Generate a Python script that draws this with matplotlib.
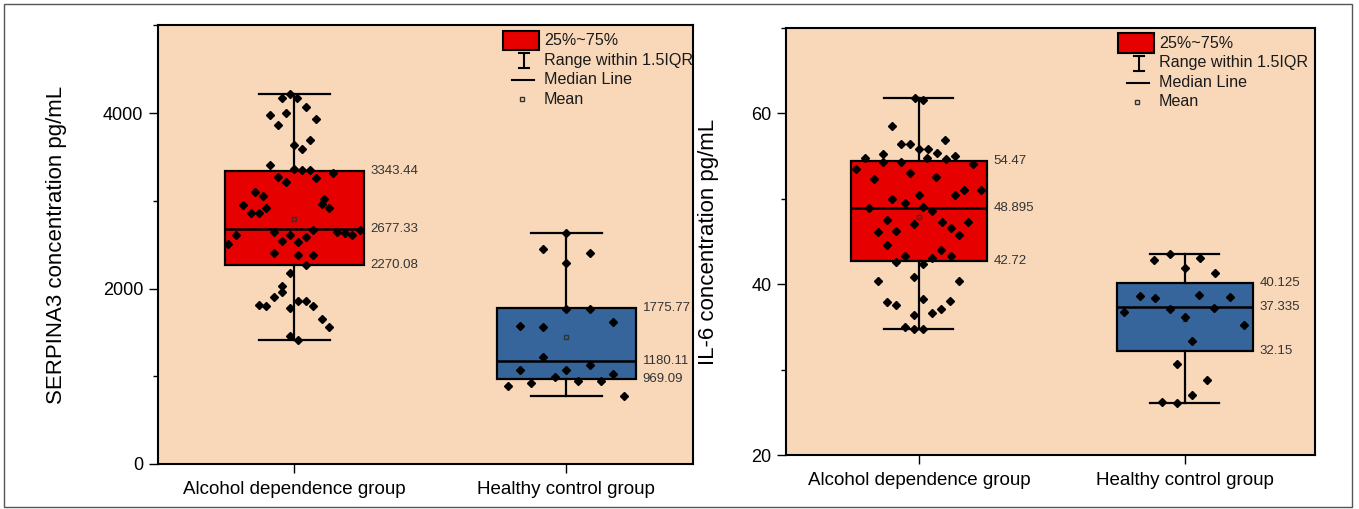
import numpy as np
import matplotlib.pyplot as plt
from matplotlib.patches import Rectangle
from matplotlib.lines import Line2D
from matplotlib.ticker import MultipleLocator

plt.rcParams['font.family'] = ['Liberation Sans', 'DejaVu Sans']

# ==============================
# Data
# ==============================
groups = ["Alcohol dependence group", "Healthy control group"]

# SERPINA3, alcohol dependence group: values and horizontal jitter
serp_alc = [4217, 4168, 4168, 4076, 3981, 4000, 3939, 3867, 3695, 3634,
            3596, 3406, 3360, 3352, 3352, 3314, 3276, 3265, 3215, 3101,
            3055, 3017, 2960, 2956, 2922, 2918, 2857, 2857, 2667, 2644,
            2606, 2613, 2590, 2644, 2636, 2613, 2667, 2507, 2545, 2530,
            2408, 2385, 2385, 2270, 2179, 2034, 1966, 1905, 1813, 1798,
            1859, 1859, 1783, 1806, 1653, 1562, 1455, 1417]
serp_alc_jit = [-0.016, -0.043, 0.011, 0.042, -0.087, -0.030, 0.082, -0.058, 0.057, 0.0,
                0.028, -0.087, 0.0, 0.028, 0.057, 0.143, -0.058, 0.082, -0.030, -0.144,
                -0.114, 0.111, 0.101, -0.186, -0.102, 0.129, -0.159, -0.128, 0.070, -0.073,
                -0.213, -0.014, 0.043, 0.156, 0.185, 0.214, 0.242, -0.242, -0.043, 0.014,
                -0.073, 0.014, 0.070, 0.042, -0.014, -0.043, -0.043, -0.073, -0.130, -0.102,
                0.014, 0.042, -0.014, 0.071, 0.101, 0.128, -0.014, 0.014]

# SERPINA3, healthy control group
serp_hc = [2629, 2446, 2404, 2290, 1768, 1768, 1577, 1566, 1619, 1219,
           1131, 1074, 1074, 1029, 994, 895, 918, 941, 941, 770]
serp_hc_jit = [0.0, -0.086, 0.085, 0.0, 0.0, 0.085, -0.171, -0.086, 0.171, -0.086,
               0.085, -0.171, 0.0, 0.171, -0.043, -0.214, -0.129, 0.043, 0.128, 0.211]

serp_q1 = [2270.08, 969.09]
serp_med = [2677.33, 1180.11]
serp_q3 = [3343.44, 1775.77]
serp_mean = [2796, 1448]

# IL-6, alcohol dependence group
il6_alc = [61.83, 61.52, 58.48, 56.37, 56.37, 56.92, 55.87, 55.87, 55.36, 54.81,
           55.20, 54.81, 54.66, 54.97, 54.27, 54.27, 54.11, 53.49, 52.28, 53.02,
           52.51, 51.07, 50.99, 50.49, 50.49, 50.02, 49.55, 48.97, 49.04, 48.58,
           47.49, 47.29, 47.10, 46.28, 46.08, 46.55, 47.33, 45.77, 44.56, 43.98,
           43.27, 43.12, 43.27, 42.61, 42.42, 40.39, 40.86, 40.39, 38.28, 37.97,
           37.58, 38.05, 37.11, 36.65, 36.37, 35.01, 34.70, 34.81]
il6_alc_jit = [-0.016, 0.017, -0.101, -0.067, -0.034, 0.100, 0.0, 0.034, 0.067, -0.203,
               -0.136, 0.032, 0.101, 0.135, -0.136, -0.067, 0.202, -0.236, -0.170, -0.034,
               0.066, 0.235, 0.168, 0.135, 0.0, -0.101, -0.051, -0.186, 0.017, 0.050,
               -0.120, 0.085, -0.017, -0.085, -0.154, 0.119, 0.185, 0.151, -0.120, 0.084,
               -0.051, 0.050, 0.119, -0.085, 0.017, -0.154, -0.017, 0.151, 0.015, -0.120,
               -0.085, 0.117, 0.084, 0.050, -0.017, -0.051, -0.017, 0.017]

# IL-6, healthy control group
il6_hc = [43.59, 42.89, 43.08, 41.95, 41.29, 38.67, 38.36, 38.75, 38.48, 36.80,
          37.15, 37.23, 36.18, 35.17, 33.37, 30.68, 28.77, 26.98, 26.20, 26.12]
il6_hc_jit = [-0.057, -0.114, 0.056, 0.0, 0.114, -0.168, -0.112, 0.054, 0.170, -0.228,
              -0.056, 0.111, 0.0, 0.222, 0.029, -0.030, 0.084, 0.029, -0.086, -0.030]

il6_q1 = [42.72, 32.15]
il6_med = [48.895, 37.335]
il6_q3 = [54.47, 40.125]
il6_mean = [47.88, 35.95]

legend_labels = ["25%~75%", "Range within 1.5IQR", "Median Line", "Mean"]

# ==============================
# Style
# ==============================
BG = '#F9D8BA'
BOX_COLORS = ['#E60000', '#35659A']
W, H = 1359, 509


def draw_legend(ax, w_px, h_px, right_off):
    """Legend drawn by hand in pixel offsets from the top-right corner."""
    fx = lambda dx: 1 + dx / w_px
    fy = lambda dy: 1 - dy / h_px
    pl = right_off
    ax.add_patch(Rectangle((fx(pl), fy(24.5)), 36 / w_px, 19 / h_px,
                           transform=ax.transAxes, facecolor=BOX_COLORS[0],
                           edgecolor='black', lw=1.5, zorder=5))
    # I-bar
    ax.add_line(Line2D([fx(pl + 21)] * 2, [fy(28), fy(43)], transform=ax.transAxes, color='black', lw=1.5))
    for yy in (28, 43):
        ax.add_line(Line2D([fx(pl + 16), fx(pl + 26)], [fy(yy)] * 2, transform=ax.transAxes, color='black', lw=1.5))
    # median line
    ax.add_line(Line2D([fx(pl + 9), fx(pl + 31)], [fy(54.5)] * 2, transform=ax.transAxes, color='black', lw=1.5))
    # mean
    ax.plot([fx(pl + 19)], [fy(74)], 's', ms=3.3, mfc='none', mec='#333333', mew=1, transform=ax.transAxes)
    for lab, yy in zip(legend_labels, [15, 35, 54.5, 74]):
        ax.text(fx(pl + 41), fy(yy), lab, transform=ax.transAxes, fontsize=11.6,
                va='center', ha='left', color='#1a1a1a')


def draw_panel(ax, pts, jits, q1, med, q3, means, ylim, major, ylabel):
    stats = []
    for i in range(2):
        stats.append(dict(med=med[i], q1=q1[i], q3=q3[i], mean=means[i],
                          whislo=min(pts[i]), whishi=max(pts[i]), fliers=[]))
    bp = ax.bxp(stats, positions=[1, 2], widths=0.51, capwidths=0.26,
                patch_artist=True, showmeans=True, showfliers=False,
                boxprops=dict(edgecolor='black', lw=1.6),
                medianprops=dict(color='black', lw=1.8),
                whiskerprops=dict(color='black', lw=1.6),
                capprops=dict(color='black', lw=1.6),
                meanprops=dict(marker='s', ms=3.3, mfc='none', mec='#333333', mew=1))
    for patch, c in zip(bp['boxes'], BOX_COLORS):
        patch.set_facecolor(c)

    for i in range(2):
        x = np.array(jits[i]) + (i + 1)
        ax.plot(x, pts[i], 'D', ms=3.7, color='black', ls='none', zorder=4)
        for v in (q3[i], med[i], q1[i]):
            ax.annotate(str(v), xy=(i + 1 + 0.255, v), xytext=(5, 0),
                        textcoords='offset points', va='center', ha='left',
                        fontsize=9.5, color='#333333')

    ax.set_facecolor(BG)
    ax.set_ylim(*ylim)
    ax.yaxis.set_major_locator(MultipleLocator(major))
    ax.yaxis.set_minor_locator(MultipleLocator(major / 2))
    ax.set_xticks([1, 2])
    ax.set_xticklabels(groups, fontsize=13.5)
    ax.tick_params(axis='y', which='major', length=6.5, width=1, labelsize=13, pad=4)
    ax.tick_params(axis='y', which='minor', length=3.3, width=1)
    ax.tick_params(axis='x', length=6.5, width=1, pad=5.5)
    for sp in ax.spines.values():
        sp.set_linewidth(1.5)
    ax.set_ylabel(ylabel, fontsize=16)


fig = plt.figure(figsize=(W / 100, H / 100), dpi=100)

# left panel: SERPINA3
ax1 = fig.add_axes([158 / W, 45 / H, 535 / W, 438.5 / H])
draw_panel(ax1, [serp_alc, serp_hc], [serp_alc_jit, serp_hc_jit],
           serp_q1, serp_med, serp_q3, serp_mean, (0, 5000), 2000,
           "SERPINA3 concentration pg/mL")
ax1.set_xlim(0.5, 2.465)
ax1.yaxis.set_label_coords(-0.170, 0.5)
draw_legend(ax1, 535, 438.5, -190)

# right panel: IL-6
ax2 = fig.add_axes([786 / W, 54 / H, 529 / W, 427 / H])
draw_panel(ax2, [il6_alc, il6_hc], [il6_alc_jit, il6_hc_jit],
           il6_q1, il6_med, il6_q3, il6_mean, (20, 70), 20,
           "IL-6 concentration pg/mL")
ax2.set_xlim(0.5, 2.49)
ax2.yaxis.set_label_coords(-0.127, 0.5)
draw_legend(ax2, 529, 427, -197)

# thin frame around the whole figure
fig.add_artist(Rectangle((4 / W, 2 / H), 1348 / W, 503 / H, transform=fig.transFigure,
                         fill=False, edgecolor='#555555', lw=1))

fig.savefig("out.png", dpi=100)
plt.close(fig)
